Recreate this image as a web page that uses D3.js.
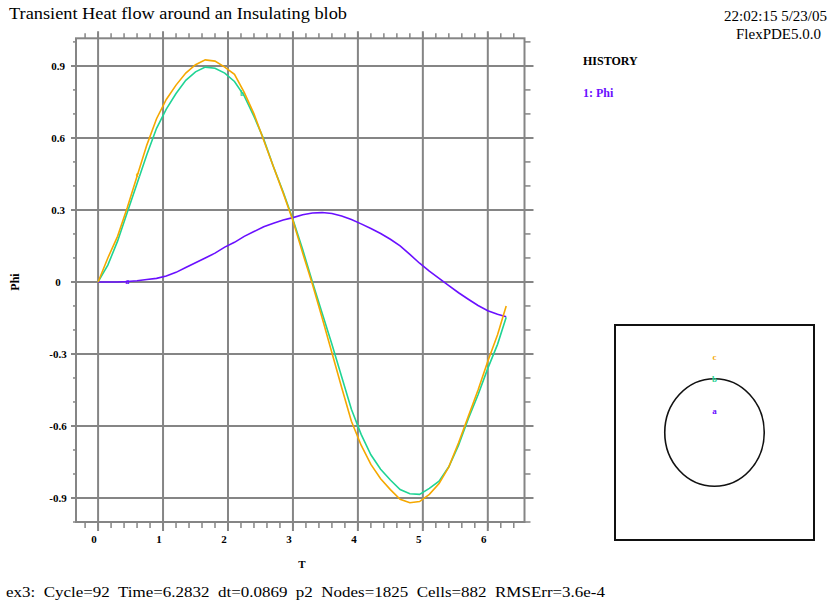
<!DOCTYPE html>
<html>
<head>
<meta charset="utf-8">
<script src="https://cdn.jsdelivr.net/npm/d3@7"></script>
<style>
  body { margin: 0; background: #fff; }
  svg { display: block; font-family: "Liberation Serif", "DejaVu Serif", serif; }
</style>
</head>
<body>
<svg id="chart" width="830" height="608"></svg>
<script>
// time axis (shared by the three history points)
var times = [0, 0.15, 0.3, 0.45, 0.6, 0.75, 0.9, 1.05, 1.2, 1.35, 1.5, 1.65, 1.8, 1.95, 2.1, 2.25, 2.4, 2.55, 2.7, 2.85,
             3.0, 3.15, 3.3, 3.45, 3.6, 3.75, 3.9, 4.05, 4.2, 4.35, 4.5, 4.65, 4.8, 4.95, 5.1, 5.25, 5.4, 5.55, 5.7, 5.85,
             6.0, 6.15, 6.2832];
// Phi at point a (purple)
var phiA = [0, 0, 0, 0.002, 0.005, 0.01, 0.015, 0.025, 0.04, 0.06, 0.08, 0.1, 0.12, 0.145, 0.165, 0.19, 0.21, 0.23, 0.245, 0.258,
            0.268, 0.28, 0.287, 0.289, 0.285, 0.275, 0.26, 0.242, 0.223, 0.202, 0.178, 0.15, 0.115, 0.078, 0.045, 0.015, -0.015, -0.045, -0.072, -0.098,
            -0.12, -0.135, -0.145];
// Phi at point b (green)
var phiB = [0, 0.07, 0.17, 0.29, 0.41, 0.53, 0.64, 0.72, 0.785, 0.84, 0.875, 0.895, 0.89, 0.87, 0.835, 0.775, 0.69, 0.595, 0.48, 0.375,
            0.26, 0.135, 0.0, -0.13, -0.26, -0.395, -0.53, -0.635, -0.72, -0.78, -0.825, -0.865, -0.882, -0.885, -0.86, -0.83, -0.77, -0.68, -0.57, -0.47,
            -0.36, -0.26, -0.147];
// Phi at point c (orange)
var phiC = [0, 0.1, 0.19, 0.31, 0.44, 0.57, 0.68, 0.76, 0.82, 0.87, 0.905, 0.925, 0.92, 0.895, 0.865, 0.79, 0.7, 0.59, 0.48, 0.37,
            0.255, 0.12, -0.01, -0.15, -0.295, -0.44, -0.58, -0.68, -0.76, -0.82, -0.865, -0.905, -0.92, -0.915, -0.885, -0.84, -0.77, -0.67, -0.56, -0.45,
            -0.33, -0.22, -0.1];

var xMajor = [0, 1, 2, 3, 4, 5, 6];
var xLabels = ["0", "1", "2", "3", "4", "5", "6"];
var yMajor = [-0.9, -0.6, -0.3, 0, 0.3, 0.6, 0.9];
var yLabels = ["-0.9", "-0.6", "-0.3", "0", "0.3", "0.6", "0.9"];

// curve id letters, colours, where the letter sits on the curve, and the point in the domain
var pointNames = ["a", "b", "c"];
var pointColors = ["#6a10ff", "#1fd494", "#f5a800"];
var labelAtT = [0.45, 2.22, 0.61];
var pointY = [0.2, 0.5, 0.7];

var svg = d3.select("#chart");
var gray = "#858585";

var x = d3.scaleLinear().domain([-0.34, 6.565]).range([76, 524.5]);
var y = d3.scaleLinear().domain([-1.0, 1.015]).range([522, 38.3]);

var xMinor = d3.range(-1, 33).map(function(i) { return +(i * 0.2).toFixed(1); });
var yMinor = d3.range(-10, 11).map(function(i) { return +(i * 0.1).toFixed(1); });

var plotTop = y.range()[1], plotBottom = y.range()[0], plotLeft = x.range()[0], plotRight = x.range()[1];

// minor ticks, all four sides
var g = svg.append("g").attr("stroke", gray).attr("stroke-width", 1.5);
xMinor.forEach(function(t) {
  g.append("line").attr("x1", x(t)).attr("x2", x(t)).attr("y1", plotTop).attr("y2", plotTop - 5);
  g.append("line").attr("x1", x(t)).attr("x2", x(t)).attr("y1", plotBottom).attr("y2", plotBottom + 6);
});
yMinor.forEach(function(v) {
  g.append("line").attr("y1", y(v)).attr("y2", y(v)).attr("x1", plotLeft).attr("x2", plotLeft - 3);
  g.append("line").attr("y1", y(v)).attr("y2", y(v)).attr("x1", plotRight).attr("x2", plotRight + 6);
});

// grid lines
var grid = svg.append("g").attr("stroke", gray).attr("stroke-width", 2);
grid.selectAll(".vx").data(xMajor).enter().append("line")
  .attr("x1", function(d) { return x(d); }).attr("x2", function(d) { return x(d); })
  .attr("y1", plotTop - 7).attr("y2", plotBottom + 9);
grid.selectAll(".hy").data(yMajor).enter().append("line")
  .attr("y1", function(d) { return y(d); }).attr("y2", function(d) { return y(d); })
  .attr("x1", plotLeft - 5).attr("x2", plotRight + 9);

// frame
svg.append("rect").attr("x", plotLeft).attr("y", plotTop)
  .attr("width", plotRight - plotLeft).attr("height", plotBottom - plotTop)
  .attr("fill", "none").attr("stroke", gray).attr("stroke-width", 2);

// tick labels
svg.selectAll(".xl").data(xMajor).enter().append("text")
  .attr("x", function(d) { return x(d) - 4; }).attr("y", 543)
  .attr("text-anchor", "middle").attr("font-size", 11).attr("font-weight", "bold")
  .text(function(d, i) { return xLabels[i]; });
svg.selectAll(".yl").data(yMajor).enter().append("text")
  .attr("x", 58).attr("y", function(d) { return y(d) + 4; })
  .attr("text-anchor", "middle").attr("font-size", 11).attr("font-weight", "bold")
  .text(function(d, i) { return yLabels[i]; });

// axis titles
svg.append("text").attr("x", 302).attr("y", 568).attr("text-anchor", "middle")
  .attr("font-size", 11).attr("font-weight", "bold").text("T");
svg.append("text").attr("transform", "translate(19,282) rotate(-90)").attr("text-anchor", "middle")
  .attr("font-size", 12).attr("font-weight", "bold").text("Phi");

// curves
var line = d3.line()
  .x(function(d) { return x(d[0]); })
  .y(function(d) { return y(d[1]); });
[phiA, phiB, phiC].forEach(function(vals, k) {
  var pts = times.map(function(t, i) { return [t, vals[i]]; });
  svg.append("path").datum(pts).attr("d", line)
    .attr("fill", "none").attr("stroke", pointColors[k]).attr("stroke-width", 1.6);
  var v = d3.scaleLinear().domain(times).range(vals)(labelAtT[k]);
  svg.append("text").attr("x", x(labelAtT[k])).attr("y", y(v) + 3)
    .attr("text-anchor", "middle").attr("font-size", 8).attr("font-weight", "bold")
    .attr("fill", pointColors[k]).text(pointNames[k]);
});

// header texts
svg.append("text").attr("x", 9).attr("y", 19).attr("font-size", 16)
  .attr("textLength", 338).attr("lengthAdjust", "spacingAndGlyphs")
  .text("Transient Heat flow around an Insulating blob");
svg.append("text").attr("x", 827).attr("y", 21).attr("text-anchor", "end").attr("font-size", 15)
  .text("22:02:15 5/23/05");
svg.append("text").attr("x", 821).attr("y", 39).attr("text-anchor", "end").attr("font-size", 15)
  .text("FlexPDE5.0.0");
svg.append("text").attr("x", 583).attr("y", 65).attr("font-size", 12).attr("font-weight", "bold")
  .text("HISTORY");
svg.append("text").attr("x", 583).attr("y", 97).attr("font-size", 12).attr("font-weight", "bold")
  .attr("fill", pointColors[0]).text("1: Phi");

// footer
svg.append("text").attr("x", 6).attr("y", 597).attr("font-size", 15)
  .style("white-space", "pre")
  .attr("textLength", 599).attr("lengthAdjust", "spacingAndGlyphs")
  .text("ex3:  Cycle=92  Time=6.2832  dt=0.0869  p2  Nodes=1825  Cells=882  RMSErr=3.6e-4");

// domain inset with point locations
var ix = d3.scaleLinear().domain([-1, 1]).range([615, 814]);
var iy = d3.scaleLinear().domain([-1, 1]).range([540, 325]);
svg.append("rect").attr("x", ix(-1)).attr("y", iy(1))
  .attr("width", ix(1) - ix(-1)).attr("height", iy(-1) - iy(1))
  .attr("fill", "none").attr("stroke", "#111").attr("stroke-width", 2);
svg.append("ellipse").attr("cx", ix(0)).attr("cy", iy(0))
  .attr("rx", ix(0.5) - ix(0)).attr("ry", iy(0) - iy(0.5))
  .attr("fill", "none").attr("stroke", "#111").attr("stroke-width", 1.6);
svg.selectAll(".pl").data(pointY).enter().append("text")
  .attr("x", ix(0)).attr("y", function(d) { return iy(d) + 3; })
  .attr("text-anchor", "middle").attr("font-size", 9).attr("font-weight", "bold")
  .attr("fill", function(d, i) { return pointColors[i]; })
  .text(function(d, i) { return pointNames[i]; });
</script>
</body>
</html>
